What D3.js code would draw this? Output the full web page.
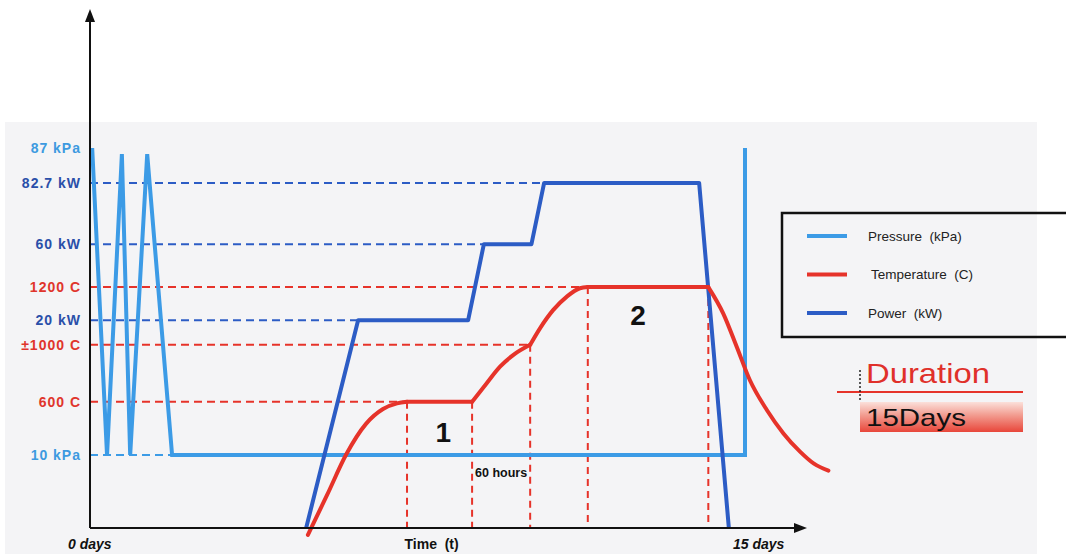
<!DOCTYPE html>
<html><head><meta charset="utf-8">
<script src="https://cdn.jsdelivr.net/npm/d3@7"></script>
<style>body{margin:0;background:#fff}svg{display:block}text{font-family:Arial,"Liberation Sans",sans-serif}</style>
</head><body><svg id="c" width="1066" height="554"></svg>
<script>
// ---- data (time in days, level in schematic units) ----
const levelLabels = ["87 kPa","82.7 kW","60 kW","1200 C","20 kW","±1000 C","600 C","10 kPa"];
const levelValues = [100, 90.8, 74.7, 63.4, 54.7, 48.2, 33.2, 19.2];
const levelSeries = ["pressure","power","power","temp","power","temp","temp","pressure"];
const guideEnds   = [null, 10.40, 9.02, 11.40, 6.14, 10.08, 7.26, 1.88];

const pressureT = [0.05, 0.39, 0.73, 0.92, 1.31, 1.88, 15.0, 15.0];
const pressureV = [100, 19.2, 98.4, 19.2, 98.4, 19.2, 19.2, 100];

const powerT = [4.95, 6.14, 8.66, 9.02, 10.11, 10.40, 13.95, 14.63];
const powerV = [0, 54.7, 54.7, 74.7, 74.7, 90.8, 90.8, 0];

const tempSegT = [
  [4.99, 5.43, 5.86, 6.32, 6.71, 7.03, 7.26],
  [7.26, 8.75],
  [8.75, 9.085, 9.39, 9.69, 10.08],
  [10.08, 10.305, 10.61, 10.92, 11.22, 11.40],
  [11.40, 14.16],
  [14.16, 14.50, 14.81, 15.11, 15.50, 15.88, 16.26, 16.57, 16.91]
];
const tempSegV = [
  [-1.8, 8.7, 19.2, 27.4, 31.3, 32.8, 33.2],
  [33.2, 33.2],
  [33.2, 38.1, 42.45, 45.5, 48.2],
  [48.2, 52.55, 57.4, 60.9, 63.1, 63.4],
  [63.4, 63.4],
  [63.4, 56.5, 47.7, 38.95, 31.05, 24.9, 20.1, 17.0, 15.1]
];

const markerT = [7.26, 8.75, 10.08, 11.40, 14.16];
const markerV = [33.2, 33.2, 48.2, 63.4, 63.4];

const legendNames = ["Pressure  (kPa)", "Temperature  (C)", "Power  (kW)"];
const legendKeys  = ["pressure", "temp", "power"];

const phaseLabels = ["1", "2"];
const phaseT = [8.09, 12.55];
const phaseV = [22.6, 53.5];

const xTickLabels = ["0 days", "Time  (t)", "15 days"];

// ---- styling ----
const colors = {pressure:"#3c9be6", power:"#2c5cc5", temp:"#e6332a"};
const labelColors = {pressure:"#3d9ae0", power:"#2a4fa9", temp:"#e0352c"};

const svg = d3.select("#c");
const x = d3.scaleLinear().domain([0, 15]).range([90, 745]);
const y = d3.scaleLinear().domain([0, 100]).range([528, 148]);

// background scan area
svg.append("rect").attr("x",5).attr("y",122).attr("width",1032).attr("height",432).attr("fill","#f4f4f6");

// defs
const defs = svg.append("defs");
const grad = defs.append("linearGradient").attr("id","dur").attr("x1",0).attr("y1",0).attr("x2",0).attr("y2",1);
grad.append("stop").attr("offset","0%").attr("stop-color","#fbe0da");
grad.append("stop").attr("offset","45%").attr("stop-color","#f29a8e");
grad.append("stop").attr("offset","100%").attr("stop-color","#e8463a");

// horizontal guides
levelValues.forEach((v,i)=>{
  if (guideEnds[i] == null) return;
  svg.append("line").attr("x1",x(0)).attr("x2",x(guideEnds[i]))
    .attr("y1",y(v)).attr("y2",y(v))
    .attr("stroke",colors[levelSeries[i]]).attr("stroke-width",2)
    .attr("stroke-dasharray","8,5");
});
// vertical markers
markerT.forEach((t,i)=>{
  svg.append("line").attr("x1",x(t)).attr("x2",x(t))
    .attr("y1",y(markerV[i])).attr("y2",y(0))
    .attr("stroke",colors.temp).attr("stroke-width",2)
    .attr("stroke-dasharray","7,5");
});

const line = d3.line().x(d=>x(d[0])).y(d=>y(d[1]));

// pressure
svg.append("path").attr("d", line(pressureT.map((t,i)=>[t,pressureV[i]])))
  .attr("fill","none").attr("stroke",colors.pressure).attr("stroke-width",4).attr("stroke-linejoin","miter");
// power
svg.append("path").attr("d", line(powerT.map((t,i)=>[t,powerV[i]])))
  .attr("fill","none").attr("stroke",colors.power).attr("stroke-width",4).attr("stroke-linejoin","round");
// temperature
const curve = d3.line().x(d=>x(d[0])).y(d=>y(d[1])).curve(d3.curveMonotoneX);
tempSegT.forEach((seg,s)=>{
  svg.append("path").attr("d", curve(seg.map((t,i)=>[t,tempSegV[s][i]])))
    .attr("fill","none").attr("stroke",colors.temp).attr("stroke-width",4).attr("stroke-linecap","round");
});

// axes
svg.append("line").attr("x1",x(0)).attr("x2",x(0)).attr("y1",y(0)).attr("y2",20).attr("stroke","#111").attr("stroke-width",2);
svg.append("path").attr("d",`M${x(0)-5},22 L${x(0)},9 L${x(0)+5},22 Z`).attr("fill","#111");
svg.append("line").attr("x1",x(0)).attr("x2",796).attr("y1",y(0)).attr("y2",y(0)).attr("stroke","#111").attr("stroke-width",2);
svg.append("path").attr("d",`M794,${y(0)-5} L807,${y(0)} L794,${y(0)+5} Z`).attr("fill","#111");

// y labels
levelLabels.forEach((lab,i)=>{
  svg.append("text").attr("x",81).attr("y",y(levelValues[i])).attr("dy","0.36em")
    .attr("text-anchor","end").attr("font-size",14).attr("font-weight","bold")
    .attr("letter-spacing","1px")
    .attr("fill",labelColors[levelSeries[i]]).text(lab);
});

// x labels
const xLabT = [0, 7.5, 15];
xTickLabels.forEach((lab,i)=>{
  const t = svg.append("text").attr("y",549).attr("font-size",14).attr("font-weight","bold")
    .attr("fill","#111").style("white-space","pre");
  if (i===0) t.attr("x",x(xLabT[i])-22).attr("font-style","italic").text(lab);
  else if (i===1) t.attr("x",x(xLabT[i])-13).text(lab);
  else t.attr("x",x(xLabT[i])-12).attr("font-style","italic").text(lab);
});

// phase labels
phaseLabels.forEach((lab,i)=>{
  svg.append("text").attr("x",x(phaseT[i])).attr("y",y(phaseV[i])).attr("text-anchor","middle")
    .attr("font-size",28).attr("font-weight","bold").attr("fill","#111").text(lab);
});
svg.append("text").attr("x",x(8.75)+3).attr("y",477).attr("font-size",12.5).attr("font-weight","bold")
  .attr("fill","#111").text("60 hours");

// legend
const lg = svg.append("g");
lg.append("path").attr("d","M1066,213 L782,213 L782,337 L1066,337").attr("fill","none").attr("stroke","#111").attr("stroke-width",2.5);
legendNames.forEach((n,i)=>{
  const yy = 236 + i*38.5;
  lg.append("line").attr("x1",807).attr("x2",847).attr("y1",yy).attr("y2",yy)
    .attr("stroke",colors[legendKeys[i]]).attr("stroke-width",4);
  lg.append("text").attr("x", i===1?871:868).attr("y",yy).attr("dy","0.36em").attr("font-size",13.5)
    .attr("fill","#222").style("white-space","pre").text(n);
});

// duration box
svg.append("text").attr("x",866).attr("y",383).attr("font-size",28).attr("fill","#e0302a")
  .attr("textLength",124).attr("lengthAdjust","spacingAndGlyphs").text("Duration");
svg.append("rect").attr("x",860).attr("y",402).attr("width",163).attr("height",30).attr("fill","url(#dur)");
svg.append("line").attr("x1",837).attr("x2",1023).attr("y1",392).attr("y2",392).attr("stroke","#e6332a").attr("stroke-width",2);
svg.append("line").attr("x1",860).attr("x2",860).attr("y1",370).attr("y2",402).attr("stroke","#222").attr("stroke-width",1.5).attr("stroke-dasharray","2,2");
svg.append("text").attr("x",866).attr("y",426).attr("font-size",24).attr("fill","#111")
  .attr("textLength",100).attr("lengthAdjust","spacingAndGlyphs").text("15Days");
</script></body></html>
